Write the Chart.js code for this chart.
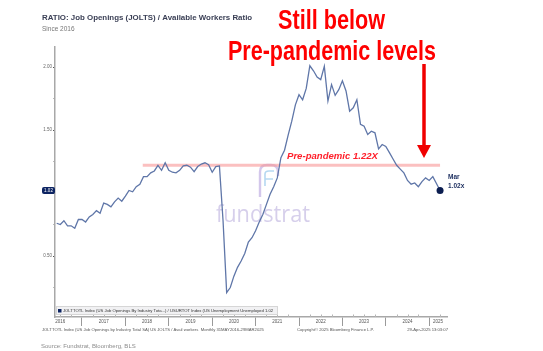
<!DOCTYPE html>
<html>
<head>
<meta charset="utf-8">
<script src="https://cdn.jsdelivr.net/npm/chart.js@4.4.1/dist/chart.umd.min.js"></script>
<style>
  html, body { margin: 0; padding: 0; background: #fff; }
  #chart { display: block; }
</style>
</head>
<body>
<canvas id="chart" width="543" height="351"></canvas>
<script>
// monthly ratio, job openings / unemployed (month-end values)
const firstMonth2016 = 5; // data starts May 2016
const ratio2016 = [0.76, 0.75, 0.78, 0.74, 0.74, 0.72, 0.79, 0.79];
const ratio2017 = [0.77, 0.81, 0.83, 0.86, 0.84, 0.92, 0.91, 0.89, 0.93, 0.96, 0.935, 0.975];
const ratio2018 = [1.02, 1.01, 1.05, 1.07, 1.13, 1.13, 1.16, 1.175, 1.22, 1.18, 1.24, 1.18];
const ratio2019 = [1.165, 1.16, 1.18, 1.215, 1.22, 1.205, 1.17, 1.21, 1.23, 1.24, 1.225, 1.165];
const ratio2020 = [1.21, 1.215, 0.78, 0.21, 0.25, 0.34, 0.41, 0.46, 0.52, 0.61, 0.645, 0.7];
const ratio2021 = [0.77, 0.83, 0.91, 0.99, 1.05, 1.12, 1.28, 1.34, 1.46, 1.57, 1.7, 1.78];
const ratio2022 = [1.74, 1.83, 2.01, 1.97, 1.92, 1.9, 2.005, 1.73, 1.86, 1.775, 1.82, 1.89];
const ratio2023 = [1.81, 1.65, 1.676, 1.74, 1.545, 1.53, 1.465, 1.49, 1.478, 1.35, 1.385, 1.37];
const ratio2024 = [1.32, 1.27, 1.22, 1.19, 1.16, 1.1, 1.07, 1.08, 1.05, 1.09, 1.12, 1.1];
const ratio2025 = [1.13, 1.075, 1.02];

const years = [2016, 2017, 2018, 2019, 2020, 2021, 2022, 2023, 2024, 2025];
const yTicks = [0.25, 0.5, 0.75, 1, 1.25, 1.5, 1.75, 2];

const prePandemicLevel = 1.22;
const prePandemicFrom = 2018.4;
const prePandemicTo = 2025.25;

const seriesName = "JOLTTOTL Index (US Job Openings By Industry Tota...) / USURTOT Index (US Unemployment Unemployed";
const FONT = '"Liberation Sans", Arial, sans-serif';

// x axis window
const xMin = 2016.378;
const xMax = 2025.41;

const byYear = [ratio2016, ratio2017, ratio2018, ratio2019, ratio2020,
  ratio2021, ratio2022, ratio2023, ratio2024, ratio2025];

let points = [];
byYear.forEach((vals, k) => {
  const start = k === 0 ? firstMonth2016 : 1;
  vals.forEach((v, j) => {
    points.push({ x: years[k] + (start + j) / 12, y: v });
  });
});
const lastValue = points[points.length - 1].y;

// year labels sit in the middle of each year (or of the visible part)
const yearLabelPos = {};
years.forEach((yr) => {
  const pos = Math.min(yr + 0.5, (yr + xMax) / 2);
  yearLabelPos[pos.toFixed(3)] = String(yr);
});

function drawFitted(ctx, text, left, baseline, width) {
  const w = ctx.measureText(text).width;
  ctx.save();
  ctx.translate(left, baseline);
  ctx.scale(width / w, 1);
  ctx.fillText(text, 0, 0);
  ctx.restore();
}

const annotate = {
  id: "annotate",
  beforeDatasetsDraw(chart) {
    const ctx = chart.ctx;
    // fundstrat watermark
    ctx.save();
    ctx.strokeStyle = "rgba(196,180,228,0.75)";
    ctx.lineWidth = 2.4;
    ctx.beginPath();
    ctx.moveTo(260, 197);
    ctx.lineTo(260, 172);
    ctx.quadraticCurveTo(260, 165, 267, 165);
    ctx.lineTo(271, 165);
    ctx.quadraticCurveTo(278, 165, 278, 172);
    ctx.lineTo(278, 176);
    ctx.stroke();
    ctx.strokeStyle = "rgba(150,200,235,0.7)";
    ctx.lineWidth = 1.6;
    ctx.beginPath();
    ctx.moveTo(265, 186);
    ctx.lineTo(265, 174);
    ctx.quadraticCurveTo(265, 171, 269, 171);
    ctx.lineTo(274, 171);
    ctx.moveTo(265, 179);
    ctx.lineTo(273, 179);
    ctx.stroke();
    ctx.fillStyle = "rgba(196,186,226,0.7)";
    ctx.font = '24px "Open Sans", sans-serif';
    drawFitted(ctx, "fundstrat", 216, 222, 94);
    ctx.restore();
  },
  afterDraw(chart) {
    const ctx = chart.ctx;
    const xs = chart.scales.x;
    const ys = chart.scales.y;
    const area = chart.chartArea;
    ctx.save();

    // quarterly minor marks on the time axis
    ctx.strokeStyle = "#b5b5b5";
    ctx.lineWidth = 1;
    for (let t = Math.ceil(xMin * 4) / 4; t <= xMax; t += 0.25) {
      if (Number.isInteger(t)) continue;
      const px = Math.round(xs.getPixelForValue(t)) + 0.5;
      ctx.beginPath();
      ctx.moveTo(px, area.bottom);
      ctx.lineTo(px, area.bottom - 2.5);
      ctx.stroke();
    }

    // last value box on the y axis
    const ly = ys.getPixelForValue(lastValue);
    ctx.fillStyle = "#0d2462";
    ctx.beginPath();
    ctx.roundRect(42, ly - 3.5, 13, 7, 2);
    ctx.fill();
    ctx.fillStyle = "#fff";
    ctx.font = "4.5px " + FONT;
    ctx.textAlign = "center";
    ctx.textBaseline = "middle";
    ctx.fillText(lastValue.toFixed(2), 48.5, ly + 0.3);

    // legend box inside the plot
    ctx.fillStyle = "#f1f1f3";
    ctx.fillRect(area.left + 1, area.bottom - 11, 222, 9);
    ctx.strokeStyle = "#d6d6d6";
    ctx.strokeRect(area.left + 1.5, area.bottom - 10.5, 221, 8);
    ctx.fillStyle = "#0d2462";
    ctx.fillRect(area.left + 3, area.bottom - 8, 3.5, 3.5);
    ctx.fillStyle = "#333";
    ctx.textAlign = "left";
    ctx.font = "4.2px " + FONT;
    ctx.fillText(seriesName + " " + lastValue.toFixed(2), area.left + 8, area.bottom - 6.2);

    // footnote line under the axis
    ctx.fillStyle = "#555";
    ctx.font = "4.2px " + FONT;
    ctx.fillText("JOLTTOTL Index (US Job Openings by Industry Total SA) US JOLTS / Avail workers  Monthly 31MAY2016-29MAR2025", 42, 330);
    ctx.fillText("Copyright\u00A9 2025 Bloomberg Finance L.P.", 297, 330);
    ctx.textAlign = "right";
    ctx.fillText("29-Apr-2025 13:03:07", 448, 330);

    // source
    ctx.textAlign = "left";
    ctx.fillStyle = "#8c8c8c";
    ctx.font = "6px " + FONT;
    ctx.fillText("Source: Fundstrat, Bloomberg, BLS", 41, 346);

    // last point label
    const lx = xs.getPixelForValue(points[points.length - 1].x);
    ctx.fillStyle = "#1b2d5e";
    ctx.font = "bold 6.5px " + FONT;
    ctx.fillText("Mar", lx + 8, ly - 13);
    ctx.fillText(lastValue.toFixed(2) + "x", lx + 8, ly - 4);

    // headline
    ctx.textBaseline = "alphabetic";
    ctx.fillStyle = "#ff0000";
    ctx.font = "bold 27px " + FONT;
    drawFitted(ctx, "Still below", 278, 29, 107);
    drawFitted(ctx, "Pre-pandemic levels", 228, 60, 208);

    // pre-pandemic label
    ctx.fillStyle = "#ff1f2a";
    ctx.font = "italic bold 9.3px " + FONT;
    drawFitted(ctx, "Pre-pandemic " + prePandemicLevel.toFixed(2) + "X", 287, ys.getPixelForValue(prePandemicLevel) - 6, 91);

    // arrow
    ctx.strokeStyle = "#f00000";
    ctx.fillStyle = "#f00000";
    ctx.lineWidth = 3.5;
    ctx.beginPath();
    ctx.moveTo(424, 64);
    ctx.lineTo(424, 147);
    ctx.stroke();
    ctx.beginPath();
    ctx.moveTo(417, 145);
    ctx.lineTo(431, 145);
    ctx.lineTo(424, 158);
    ctx.closePath();
    ctx.fill();

    ctx.restore();
  },
};

new Chart(document.getElementById("chart"), {
  type: "line",
  data: {
    datasets: [
      {
        label: seriesName,
        data: points,
        borderColor: "#5f76a8",
        borderWidth: 1.3,
        tension: 0,
        pointRadius: (c) => (c.dataIndex === points.length - 1 ? 3.5 : 0),
        pointBackgroundColor: "#0b1d50",
        pointBorderWidth: 0,
        order: 0,
      },
      {
        label: "Pre-pandemic",
        data: [
          { x: prePandemicFrom, y: prePandemicLevel },
          { x: prePandemicTo, y: prePandemicLevel },
        ],
        borderColor: "rgba(248,150,150,0.6)",
        borderWidth: 3,
        pointRadius: 0,
        order: 1,
      },
    ],
  },
  options: {
    responsive: false,
    animation: false,
    devicePixelRatio: 1,
    layout: { padding: { left: 42, right: 96, top: 0, bottom: 0 } },
    plugins: {
      legend: { display: false },
      tooltip: { enabled: false },
      title: {
        display: true,
        text: "RATIO: Job Openings (JOLTS) / Available Workers Ratio",
        align: "start",
        color: "#3a3f55",
        font: { family: FONT, size: 7.9, weight: "bold" },
        padding: { top: 13, bottom: 1 },
      },
      subtitle: {
        display: true,
        text: "Since 2016",
        align: "start",
        color: "#777",
        font: { family: FONT, size: 6.5 },
        padding: { top: 2, bottom: 13.7 },
      },
    },
    scales: {
      x: {
        type: "linear",
        min: xMin,
        max: xMax,
        afterBuildTicks: (s) => {
          const vals = years.filter((y) => y > xMin && y < xMax)
            .concat(Object.keys(yearLabelPos).map(Number))
            .sort((a, b) => a - b);
          s.ticks = vals.map((v) => ({ value: v }));
        },
        afterFit: (s) => { s.height = 34; },
        ticks: {
          autoSkip: false,
          maxRotation: 0,
          minRotation: 0,
          padding: -7,
          color: "#555",
          font: { family: FONT, size: 4.5 },
          callback: (v) => yearLabelPos[Number(v).toFixed(3)] || "",
        },
        grid: {
          drawOnChartArea: false,
          tickLength: 9,
          color: (c) => (c.tick && Number.isInteger(c.tick.value) ? "#9a9a9a" : "rgba(0,0,0,0)"),
        },
        border: { color: "#a8a8a8", width: 1.5 },
      },
      y: {
        min: 0.016,
        max: 2.159,
        afterBuildTicks: (s) => { s.ticks = yTicks.map((v) => ({ value: v })); },
        afterFit: (s) => { s.width = 13; },
        ticks: {
          padding: 1,
          color: "#666",
          font: { family: FONT, size: 4.5 },
          callback: (v) => (v % 0.5 === 0 && v !== 1 ? Number(v).toFixed(2) : ""),
        },
        grid: {
          drawOnChartArea: false,
          tickLength: 2,
          color: (c) => (c.tick && c.tick.value % 0.5 === 0 ? "#555" : "#bbb"),
        },
        border: { color: "#a8a8a8", width: 1.5 },
      },
    },
  },
  plugins: [annotate],
});
</script>
</body>
</html>
